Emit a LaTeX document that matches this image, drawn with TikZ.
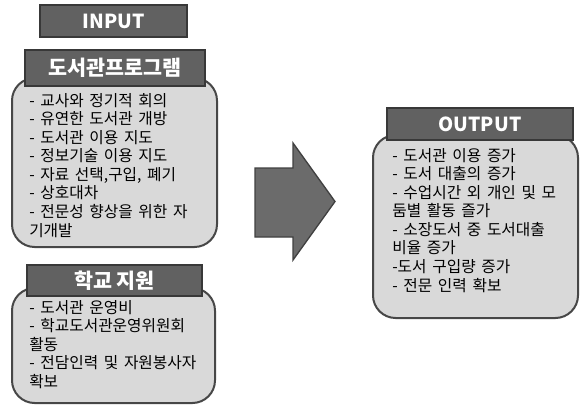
\documentclass[tikz,border=0pt]{standalone}
\usepackage{fontspec}
\setmainfont{Noto Sans CJK KR}
\newfontfamily\itemfont[WordSpace=1.6]{Noto Sans CJK KR}
\begin{document}
\begin{tikzpicture}[x=0.75pt,y=-0.75pt]
     \tikzstyle{headbox}=[draw=black!78, line width=1.2pt, fill=black!62, text=white, font=\bfseries\fontsize{14.5}{16}\selectfont, inner sep=0pt]
     \tikzstyle{bodybox}=[draw=black!72, line width=1.5pt, fill=black!15, rounded corners=17pt]
     \tikzstyle{items}=[anchor=north west, align=left, inner sep=0pt, font=\itemfont\fontsize{11.8}{13.9}\selectfont]
     \useasboundingbox (0,0) rectangle (580,405);
% input side
     \node[headbox, minimum width=110.25pt, minimum height=24pt] (input) at (113.5,21) {INPUT};
     \draw[bodybox] (12,78) rectangle (217,247);
     \node[headbox, minimum width=135pt, minimum height=27pt, font=\bfseries\fontsize{15.5}{17}\selectfont] (program) at (115,68) {도서관프로그램};
     \node[items] (programlist) at (29,93) {- 교사와 정기적 회의\\- 유연한 도서관 개방\\- 도서관 이용 지도\\- 정보기술 이용 지도\\- 자료 선택,구입, 폐기\\- 상호대차\\- 전문성 향상을 위한 자\\기개발};
     \draw[bodybox] (12,288) rectangle (215,403);
     \node[headbox, minimum width=131.25pt, minimum height=23.25pt, font=\bfseries\fontsize{15.5}{17}\selectfont] (support) at (114.5,280.5) {학교 지원};
     \node[items] (supportlist) at (29,300) {- 도서관 운영비\\- 학교도서관운영위원회\\활동\\- 전담인력 및 자원봉사자\\확보};
% arrow
     \draw[draw=black!75, line width=1pt, fill=black!58] (255,168) -- (293,168) -- (293,143) -- (335,201.5) -- (293,260) -- (293,237) -- (255,237) -- cycle;
% output side
     \draw[bodybox] (373,135) rectangle (578,318);
     \node[headbox, minimum width=139.5pt, minimum height=24pt] (output) at (480,124) {OUTPUT};
     \node[items] (outputlist) at (392,148) {- 도서관 이용 증가\\- 도서 대출의 증가\\- 수업시간 외 개인 및 모\\둠별 활동 즐가\\- 소장도서 중 도서대출\\비율 증가\\-도서 구입량 증가\\- 전문 인력 확보};
\end{tikzpicture}
\end{document}
